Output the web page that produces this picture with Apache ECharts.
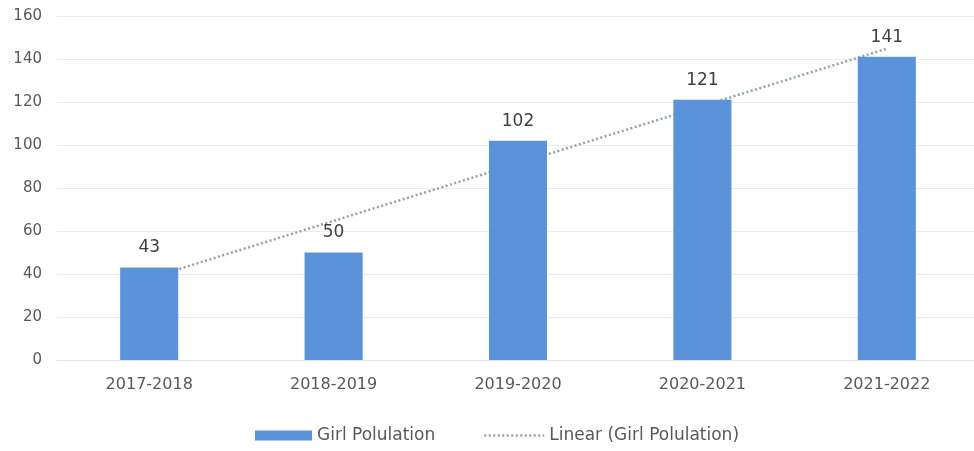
<!DOCTYPE html>
<html>
<head>
<meta charset="utf-8">
<script src="https://cdn.jsdelivr.net/npm/echarts@6/dist/echarts.min.js"></script>
<style>
  html, body { margin: 0; padding: 0; background: #ffffff; }
  #chart { width: 974px; height: 451px; }
</style>
</head>
<body>
<div id="chart"></div>
<script>
// School years on the category axis
const years = ['2017-2018', '2018-2019', '2019-2020', '2020-2021', '2021-2022'];
// Girl population per year
const girlPopulation = [43, 50, 102, 121, 141];
// Linear trendline values at each year
const trendValues = [38, 64.7, 91.4, 118.1, 144.8];
// Value axis ticks
const yMin = 0, yMax = 160, yStep = 20;

const chart = echarts.init(document.getElementById('chart'));
const font = '"DejaVu Sans", "Noto Sans", sans-serif';
const textGrey = '#595959';
const barBlue = '#5b93db';
const trendGrey = '#92a2a8';
const trendDots = { color: trendGrey, width: 2.5, type: [2, 2.5] };

chart.setOption({
  animation: false,
  backgroundColor: '#ffffff',
  grid: { left: 57, right: -5, top: 16, bottom: 91, outerBoundsMode: 'none' },
  legend: [
    {
      left: 255, top: 427, padding: 0,
      itemWidth: 57, itemHeight: 10, itemGap: 6,
      textStyle: { fontFamily: font, fontSize: 17, color: textGrey },
      data: [{ name: 'Girl Polulation', icon: 'rect' }]
    },
    {
      left: 483, top: 427, padding: 0,
      itemWidth: 60, itemHeight: 10,
      textStyle: { fontFamily: font, fontSize: 17, color: textGrey },
      data: [{
        name: 'Linear (Girl Polulation)',
        lineStyle: trendDots,
        itemStyle: { opacity: 0 }
      }]
    }
  ],
  xAxis: {
    type: 'category',
    data: years,
    axisLine: { lineStyle: { color: '#e3e3e3' } },
    axisTick: { show: false },
    axisLabel: { fontFamily: font, fontSize: 16, color: textGrey, margin: 17 }
  },
  yAxis: {
    type: 'value',
    min: yMin, max: yMax, interval: yStep,
    axisLine: { show: false },
    axisTick: { show: false },
    splitLine: { lineStyle: { color: '#ececec' } },
    axisLabel: { fontFamily: font, fontSize: 15, color: textGrey, margin: 15 }
  },
  series: [
    {
      name: 'Linear (Girl Polulation)',
      type: 'line',
      data: trendValues,
      symbol: 'none',
      z: 1,
      itemStyle: { color: trendGrey },
      lineStyle: trendDots
    },
    {
      name: 'Girl Polulation',
      type: 'bar',
      data: girlPopulation,
      barWidth: '31.5%',
      z: 2,
      itemStyle: { color: barBlue },
      label: {
        show: true, position: 'top', distance: 11,
        fontFamily: font, fontSize: 17, color: '#404040'
      }
    }
  ]
});
</script>
</body>
</html>
